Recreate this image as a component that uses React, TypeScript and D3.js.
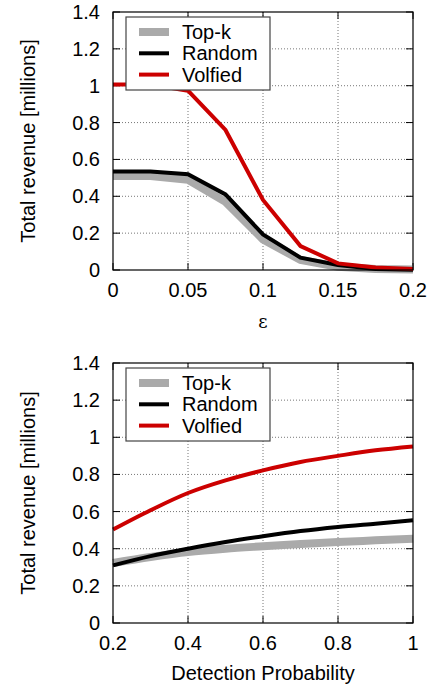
import React, { useEffect, useRef } from "react";
import * as d3 from "d3";

// top panel: revenue vs epsilon
const epsValues = [0, 0.025, 0.05, 0.075, 0.1, 0.125, 0.15, 0.175, 0.2];
const epsTopK = [0.51, 0.51, 0.49, 0.37, 0.166, 0.054, 0.018, 0.006, 0.003];
const epsRandom = [0.535, 0.535, 0.52, 0.41, 0.193, 0.067, 0.027, 0.006, 0.002];
const epsVolfied = [1.007, 1.007, 0.973, 0.76, 0.38, 0.13, 0.036, 0.013, 0.006];
const epsTicks = [0, 0.05, 0.1, 0.15, 0.2];

// bottom panel: revenue vs detection probability
const probValues = [0.2, 0.3, 0.4, 0.5, 0.6, 0.7, 0.8, 0.9, 1.0];
const probTopK = [0.323, 0.355, 0.382, 0.4, 0.413, 0.425, 0.436, 0.445, 0.454];
const probRandom = [0.31, 0.36, 0.4, 0.436, 0.467, 0.495, 0.517, 0.535, 0.553];
const probVolfied = [0.503, 0.607, 0.7, 0.768, 0.822, 0.867, 0.9, 0.93, 0.951];
const probTicks = [0.2, 0.4, 0.6, 0.8, 1];

const yTicks = [0, 0.2, 0.4, 0.6, 0.8, 1, 1.2, 1.4];
const seriesNames = ["Top-k", "Random", "Volfied"];
const seriesColors = ["#aaaaaa", "#000000", "#cc0000"];
const seriesWidths = [8, 4, 4];

const FONT = "'Liberation Sans', Arial, sans-serif";

function drawPanel(svg, opts) {
  const { top, bottom, left, right, xDomain, xTicks, xs, ys, xLabel, xLabelFont, xLabelSize, xLabelY, curve, fmt } = opts;
  const g = svg.append("g");
  const x = d3.scaleLinear().domain(xDomain).range([left, right]);
  const y = d3.scaleLinear().domain([0, 1.4]).range([bottom, top]);

  // grid
  g.selectAll(".gy")
    .data(yTicks.slice(1, -1))
    .enter().append("line")
    .attr("x1", left).attr("x2", right)
    .attr("y1", d => y(d)).attr("y2", d => y(d))
    .attr("stroke", "#777").attr("stroke-width", 1)
    .attr("stroke-dasharray", "1,2");
  g.selectAll(".gx")
    .data(xTicks.slice(1, -1))
    .enter().append("line")
    .attr("x1", d => x(d)).attr("x2", d => x(d))
    .attr("y1", top).attr("y2", bottom)
    .attr("stroke", "#777").attr("stroke-width", 1)
    .attr("stroke-dasharray", "1,2");

  // inward ticks on all sides
  yTicks.forEach(t => {
    g.append("line").attr("x1", left).attr("x2", left + 7).attr("y1", y(t)).attr("y2", y(t)).attr("stroke", "#000");
    g.append("line").attr("x1", right).attr("x2", right - 7).attr("y1", y(t)).attr("y2", y(t)).attr("stroke", "#000");
  });
  xTicks.forEach(t => {
    g.append("line").attr("x1", x(t)).attr("x2", x(t)).attr("y1", bottom).attr("y2", bottom - 7).attr("stroke", "#000");
    g.append("line").attr("x1", x(t)).attr("x2", x(t)).attr("y1", top).attr("y2", top + 7).attr("stroke", "#000");
  });

  // tick labels
  g.selectAll(".yl")
    .data(yTicks)
    .enter().append("text")
    .attr("x", left - 13)
    .attr("y", d => y(d) + 7)
    .attr("text-anchor", "end")
    .style("font-family", FONT).style("font-size", "20px")
    .text(d => d3.format("~g")(d));
  g.selectAll(".xl")
    .data(xTicks)
    .enter().append("text")
    .attr("x", d => x(d))
    .attr("y", bottom + 27)
    .attr("text-anchor", "middle")
    .style("font-family", FONT).style("font-size", "20px")
    .text(d => fmt(d));

  // axis labels
  g.append("text")
    .attr("transform", `translate(35,${(top + bottom) / 2}) rotate(-90)`)
    .attr("text-anchor", "middle")
    .style("font-family", FONT).style("font-size", "20px")
    .text("Total revenue [millions]");
  g.append("text")
    .attr("x", (left + right) / 2)
    .attr("y", xLabelY)
    .attr("text-anchor", "middle")
    .style("font-family", xLabelFont).style("font-size", xLabelSize)
    .text(xLabel);

  // lines
  const line = d3.line().x(d => x(d[0])).y(d => y(d[1])).curve(curve);
  ys.forEach((vals, i) => {
    g.append("path")
      .datum(xs.map((v, j) => [v, vals[j]]))
      .attr("d", line)
      .attr("fill", "none")
      .attr("stroke", seriesColors[i])
      .attr("stroke-width", seriesWidths[i])
      .attr("stroke-linejoin", "miter");
  });

  // frame
  g.append("rect")
    .attr("x", left).attr("y", top)
    .attr("width", right - left).attr("height", bottom - top)
    .attr("fill", "none").attr("stroke", "#000").attr("stroke-width", 1.2);

  // legend
  const lx = left + 13, ly = top + 5;
  g.append("rect")
    .attr("x", lx).attr("y", ly)
    .attr("width", 144).attr("height", 73)
    .attr("fill", "#fff").attr("stroke", "#444").attr("stroke-width", 1.2);
  seriesNames.forEach((name, i) => {
    const yy = ly + 15 + i * 21.3;
    g.append("line")
      .attr("x1", lx + 13).attr("x2", lx + 43)
      .attr("y1", yy).attr("y2", yy)
      .attr("stroke", seriesColors[i]).attr("stroke-width", seriesWidths[i]);
    g.append("text")
      .attr("x", lx + 56).attr("y", yy + 7)
      .style("font-family", FONT).style("font-size", "20px")
      .text(name);
  });
}

export default function App() {
  const ref = useRef(null);

  useEffect(() => {
    const svg = d3.select(ref.current);
    svg.selectAll("*").remove();

    drawPanel(svg, {
      top: 12, bottom: 270, left: 113, right: 413,
      xDomain: [0, 0.2], xTicks: epsTicks,
      xs: epsValues, ys: [epsTopK, epsRandom, epsVolfied],
      xLabel: "ε", xLabelFont: "'DejaVu Serif', serif", xLabelSize: "18px", xLabelY: 328,
      curve: d3.curveLinear,
      fmt: d => d3.format("~g")(d),
    });

    drawPanel(svg, {
      top: 363, bottom: 623, left: 113, right: 413,
      xDomain: [0.2, 1], xTicks: probTicks,
      xs: probValues, ys: [probTopK, probRandom, probVolfied],
      xLabel: "Detection Probability", xLabelFont: FONT, xLabelSize: "20px", xLabelY: 680,
      curve: d3.curveMonotoneX,
      fmt: d => d3.format("~g")(d),
    });
  }, []);

  return (
    <svg
      ref={ref}
      width={434}
      height={687}
      style={{ position: "absolute", left: 0, top: 0, background: "#fff" }}
    />
  );
}
